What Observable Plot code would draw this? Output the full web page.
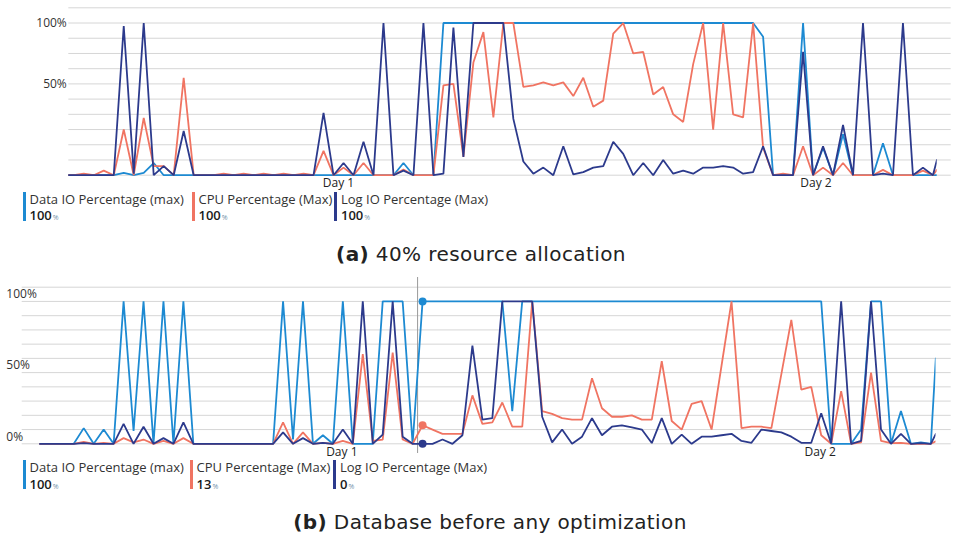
<!DOCTYPE html>
<html><head><meta charset="utf-8">
<script src="https://cdn.jsdelivr.net/npm/d3@7"></script>
<script src="https://cdn.jsdelivr.net/npm/@observablehq/plot@0.6"></script>
<style>
html,body{margin:0;padding:0;background:#fff}
#root{position:relative;width:955px;height:537px;overflow:hidden;background:#fff}
.svgwrap{position:absolute;left:0}
.item{position:absolute;width:3px;height:29px;font-family:"Open Sans",sans-serif}
.name{position:absolute;left:7px;top:0px;font-size:13px;line-height:15px;color:#333;white-space:nowrap}
.val{position:absolute;left:7px;top:16.5px;font-size:13px;font-weight:600;line-height:15px;color:#1a1a1a;white-space:nowrap}
.val small{font-size:7px;color:#6f8fa8;font-weight:400;margin-left:1px}
.cap{position:absolute;transform:translateX(-50%);white-space:nowrap;font-family:"DejaVu Sans",sans-serif;font-size:20px;letter-spacing:0.4px;color:#222;line-height:24px}
.cap b{font-weight:700}
</style></head>
<body><div id="root"></div>
<script>
// ---------- data (values in %) ----------
const seriesNames = ["Data IO Percentage (max)", "CPU Percentage (Max)", "Log IO Percentage (Max)"];
const seriesColors = ["#1d8ad2", "#f07462", "#2c3a8c"];

// Panel (a): half-hour slots 0..87, plus a partial last slot
const firstSlotA = 0;
const lastSlotA = 87.4;
const dataA = [0,0,0,0,0,0,1.5,0,1.5,8,
  0,0,0,0,0,0,0,0,0,0,
  0,0,0,0,0,0,0,0,0,0,
  0,0,0,0,8,0,0,0,100,100,
  100,100,100,100,100,100,100,100,100,100,
  100,100,100,100,100,100,100,100,100,100,
  100,100,100,100,100,100,100,100,100,100,
  91,0,0,0,100,0,18,0,27,0,
  0,0,21,0,0,0,0,0,
  0];
const cpuA = [0,0,1,0,3,0,30,0,37.6,6,
  6,0,64,0,0,0,1,0,1,0,
  1,0,1,0,1,0,16,0,5,0,
  8,0,0,0,3.7,0,0,0,59,60,
  12,74,94,38,100,100,58,59,61,59,
  61,52,64,45,49,93,100,80,81,53,
  58,40,35,73,100,30,100,40,38,100,
  18,0,1,0,19,0,5,0,8,0,
  0,0,3.5,0,0,0,3,0,
  3.5];
const logA = [0,0,0,0,0,0,98,1,100,0,
  6,0,29,0,0,0,0,0,0,0,
  0,0,0,0,0,0,41,0,8,0,
  22,0,100,0,3,0,100,0,1,97,
  12,100,100,100,100,37,9,1,5,0,
  19,0.5,2,5,6,22,14,0,8,0,
  10,1,3,1,5,5,6,5,1,2,
  19,0,0,0,81,0,19,0,33,0,
  100,0,1,0,100,0,5,0,
  10];

// Panel (b): half-hour slots -3..87, plus a partial last slot
const firstSlotB = -3;
const lastSlotB = 87.5;
const dataB = [0,0,0,0,0,11,0,10,0,100,
  9,100,0,100,0,100,0,0,0,0,
  0,0,0,0,0,100,3,100,0,6,
  0,100,0,0,0,100,100,100,0,100,
  100,100,100,100,100,100,100,100,23,100,
  100,100,100,100,100,100,100,100,100,100,
  100,100,100,100,100,100,100,100,100,100,
  100,100,100,100,100,100,100,100,100,100,
  0,0,0,10,100,100,0,23,0,1,
  0,
  60];
const cpuB = [0,0,0,0,0,1.4,0,0.7,0,4,
  1,3,0,2,0,4,0,0,0,0,
  0,0,0,0,0,15,0,8,0,0.7,
  0,2,0,63,2,3,64,3,0,13,
  10,7,7,7,34,14,15,29,12,12,
  100,23,21,18,17,17,46,25,19,19,
  20,17,17,58,16,10,28,30,10,55,
  100,11,12,12,11,49,87,38,40,6,
  0,37,0,1,50,2,0.5,0.7,0,0,
  0,
  1.7];
const logB = [0,0,0,0,0,0.5,0,0,0,14,
  0,12,0,4,0,15,0,0,0,0,
  0,0,0,0,0,8,0,4,0,0.7,
  0,10,0,100,0,6.5,100,5,0,0,
  0,3,0,6,69,17,18,100,100,100,
  100,19,1,10,0,5,18,6,12,13,
  11.5,10,0.5,18,0,6.5,0,5,5,6,
  7,2,0.7,10,9,8,5,0.7,0.7,21.5,
  0,100,0,2,100,10,0,7,0,0.5,
  0,
  7];

const dayLabels = ["Day 1", "Day 2"];
const dayTicksA = [27.5, 75.3];
const dayTicksB = [27.9, 75.9];
const gridValues = [0,10,20,30,40,50,60,70,80,90,100,110];
const yTicksA = [100, 50];
const yTicksB = [100, 50, 0];
const cursorSlotB = 35.5;
const cursorPointSlotB = 36;
const legendValuesA = [100, 100, 100];
const legendValuesB = [100, 13, 0];
const captionA = ["(a)", "40% resource allocation"];
const captionB = ["(b)", "Database before any optimization"];

// ---------- helpers ----------
function slotsFor(first, n, last) {
  const s = [];
  for (let i = 0; i < n - 1; i++) s.push(first + i);
  s.push(last);
  return s;
}
function toRows(series, first, last) {
  const rows = [];
  series.forEach((vals, si) => {
    const slots = slotsFor(first, vals.length, last);
    vals.forEach((v, i) => rows.push({slot: slots[i], v, s: seriesNames[si]}));
  });
  return rows;
}
const root = document.getElementById("root");
const fontStyle = {fontFamily: "'Open Sans', sans-serif", fontSize: "12px", color: "#333", background: "transparent", overflow: "visible"};
const colorScale = {domain: seriesNames, range: seriesColors};

// ---------- panel (a) ----------
{
  const rows = toRows([dataA, cpuA, logA], firstSlotA, lastSlotA);
  const step = 9.99, x0 = 63.3;
  const chart = Plot.plot({
    width: 955, height: 190,
    marginLeft: 68.3, marginRight: 18.3, marginTop: 0, marginBottom: 0,
    style: fontStyle,
    x: {type: "linear", domain: [firstSlotA, lastSlotA], range: [x0 + firstSlotA * step, x0 + lastSlotA * step], axis: null},
    y: {domain: [0, 110], range: [174.7, 7.3], axis: null},
    color: colorScale,
    marks: [
      Plot.ruleY(gridValues, {stroke: "#d6d6d6", strokeWidth: 1, insetRight: -14}),
      Plot.lineY(rows, {x: "slot", y: "v", z: "s", stroke: "s", strokeWidth: 1.8, clip: true, strokeLinejoin: "miter"}),
      Plot.text(yTicksA.filter(d => d === 100), {y: d => d, text: d => d + "%", frameAnchor: "left", textAnchor: "end", dx: -2, fill: "#333"}),
      Plot.text(yTicksA.filter(d => d === 50), {y: d => d, text: d => d + "%", frameAnchor: "left", textAnchor: "end", dx: -2, dy: -14.5, fill: "#333"}),
      Plot.text(dayTicksA, {x: d => d, text: (d, i) => dayLabels[i], frameAnchor: "bottom", lineAnchor: "middle", dy: -7, fill: "#222"})
    ]
  });
  const w = document.createElement("div"); w.className = "svgwrap"; w.style.top = "0px";
  w.appendChild(chart); root.appendChild(w);
}

// ---------- panel (b) ----------
{
  const rows = toRows([dataB, cpuB, logB], firstSlotB, lastSlotB);
  const step = 9.966, x0 = 63.3;
  const ci = cursorPointSlotB - firstSlotB;
  const cursorPts = [dataB[ci], cpuB[ci], logB[ci]].map((v, i) => ({slot: cursorPointSlotB, v, s: seriesNames[i]}));
  const chart = Plot.plot({
    width: 955, height: 186,
    marginLeft: 39.3, marginRight: 19.5, marginTop: 0, marginBottom: 0,
    style: fontStyle,
    x: {type: "linear", domain: [firstSlotB, lastSlotB], range: [x0 + firstSlotB * step, x0 + lastSlotB * step], axis: null},
    y: {domain: [0, 110], range: [171.3, 14.7], axis: null},
    color: colorScale,
    marks: [
      Plot.ruleY(gridValues, {stroke: "#d6d6d6", strokeWidth: 1, insetLeft: -17.6, insetRight: -15.2}),
      Plot.ruleX([cursorSlotB], {stroke: "#9a9a9a", strokeWidth: 1, insetTop: 5, insetBottom: 5}),
      Plot.lineY(rows, {x: "slot", y: "v", z: "s", stroke: "s", strokeWidth: 1.8, clip: true, strokeLinejoin: "miter"}),
      Plot.dot(cursorPts, {x: "slot", y: "v", fill: "s", r: 4}),
      Plot.text(yTicksB, {y: d => d, text: d => d + "%", frameAnchor: "left", textAnchor: "start", dx: -33.5, dy: -7, fill: "#333"}),
      Plot.text(dayTicksB, {x: d => d, text: (d, i) => dayLabels[i], frameAnchor: "bottom", lineAnchor: "middle", dy: -6, fill: "#222"})
    ]
  });
  const w = document.createElement("div"); w.className = "svgwrap"; w.style.top = "272px";
  w.appendChild(chart); root.appendChild(w);
}

// ---------- legends ----------
function legend(values, top, lefts) {
  seriesNames.forEach((n, i) => {
    const it = document.createElement("div"); it.className = "item";
    it.style.background = seriesColors[i];
    it.style.left = lefts[i] + "px"; it.style.top = top + "px";
    it.innerHTML = `<div class="name">${n}</div><div class="val">${values[i]}<small>%</small></div>`;
    root.appendChild(it);
  });
}
legend(legendValuesA, 191.7, [22.5, 191.5, 334]);
legend(legendValuesB, 460, [22.5, 189.5, 333]);

// ---------- captions ----------
function caption(parts, cx, top) {
  const c = document.createElement("div"); c.className = "cap";
  c.style.left = cx + "px"; c.style.top = top + "px";
  c.innerHTML = `<b>${parts[0]}</b> ${parts[1]}`;
  root.appendChild(c);
}
caption(captionA, 481, 242);
caption(captionB, 490, 510);
</script></body></html>
